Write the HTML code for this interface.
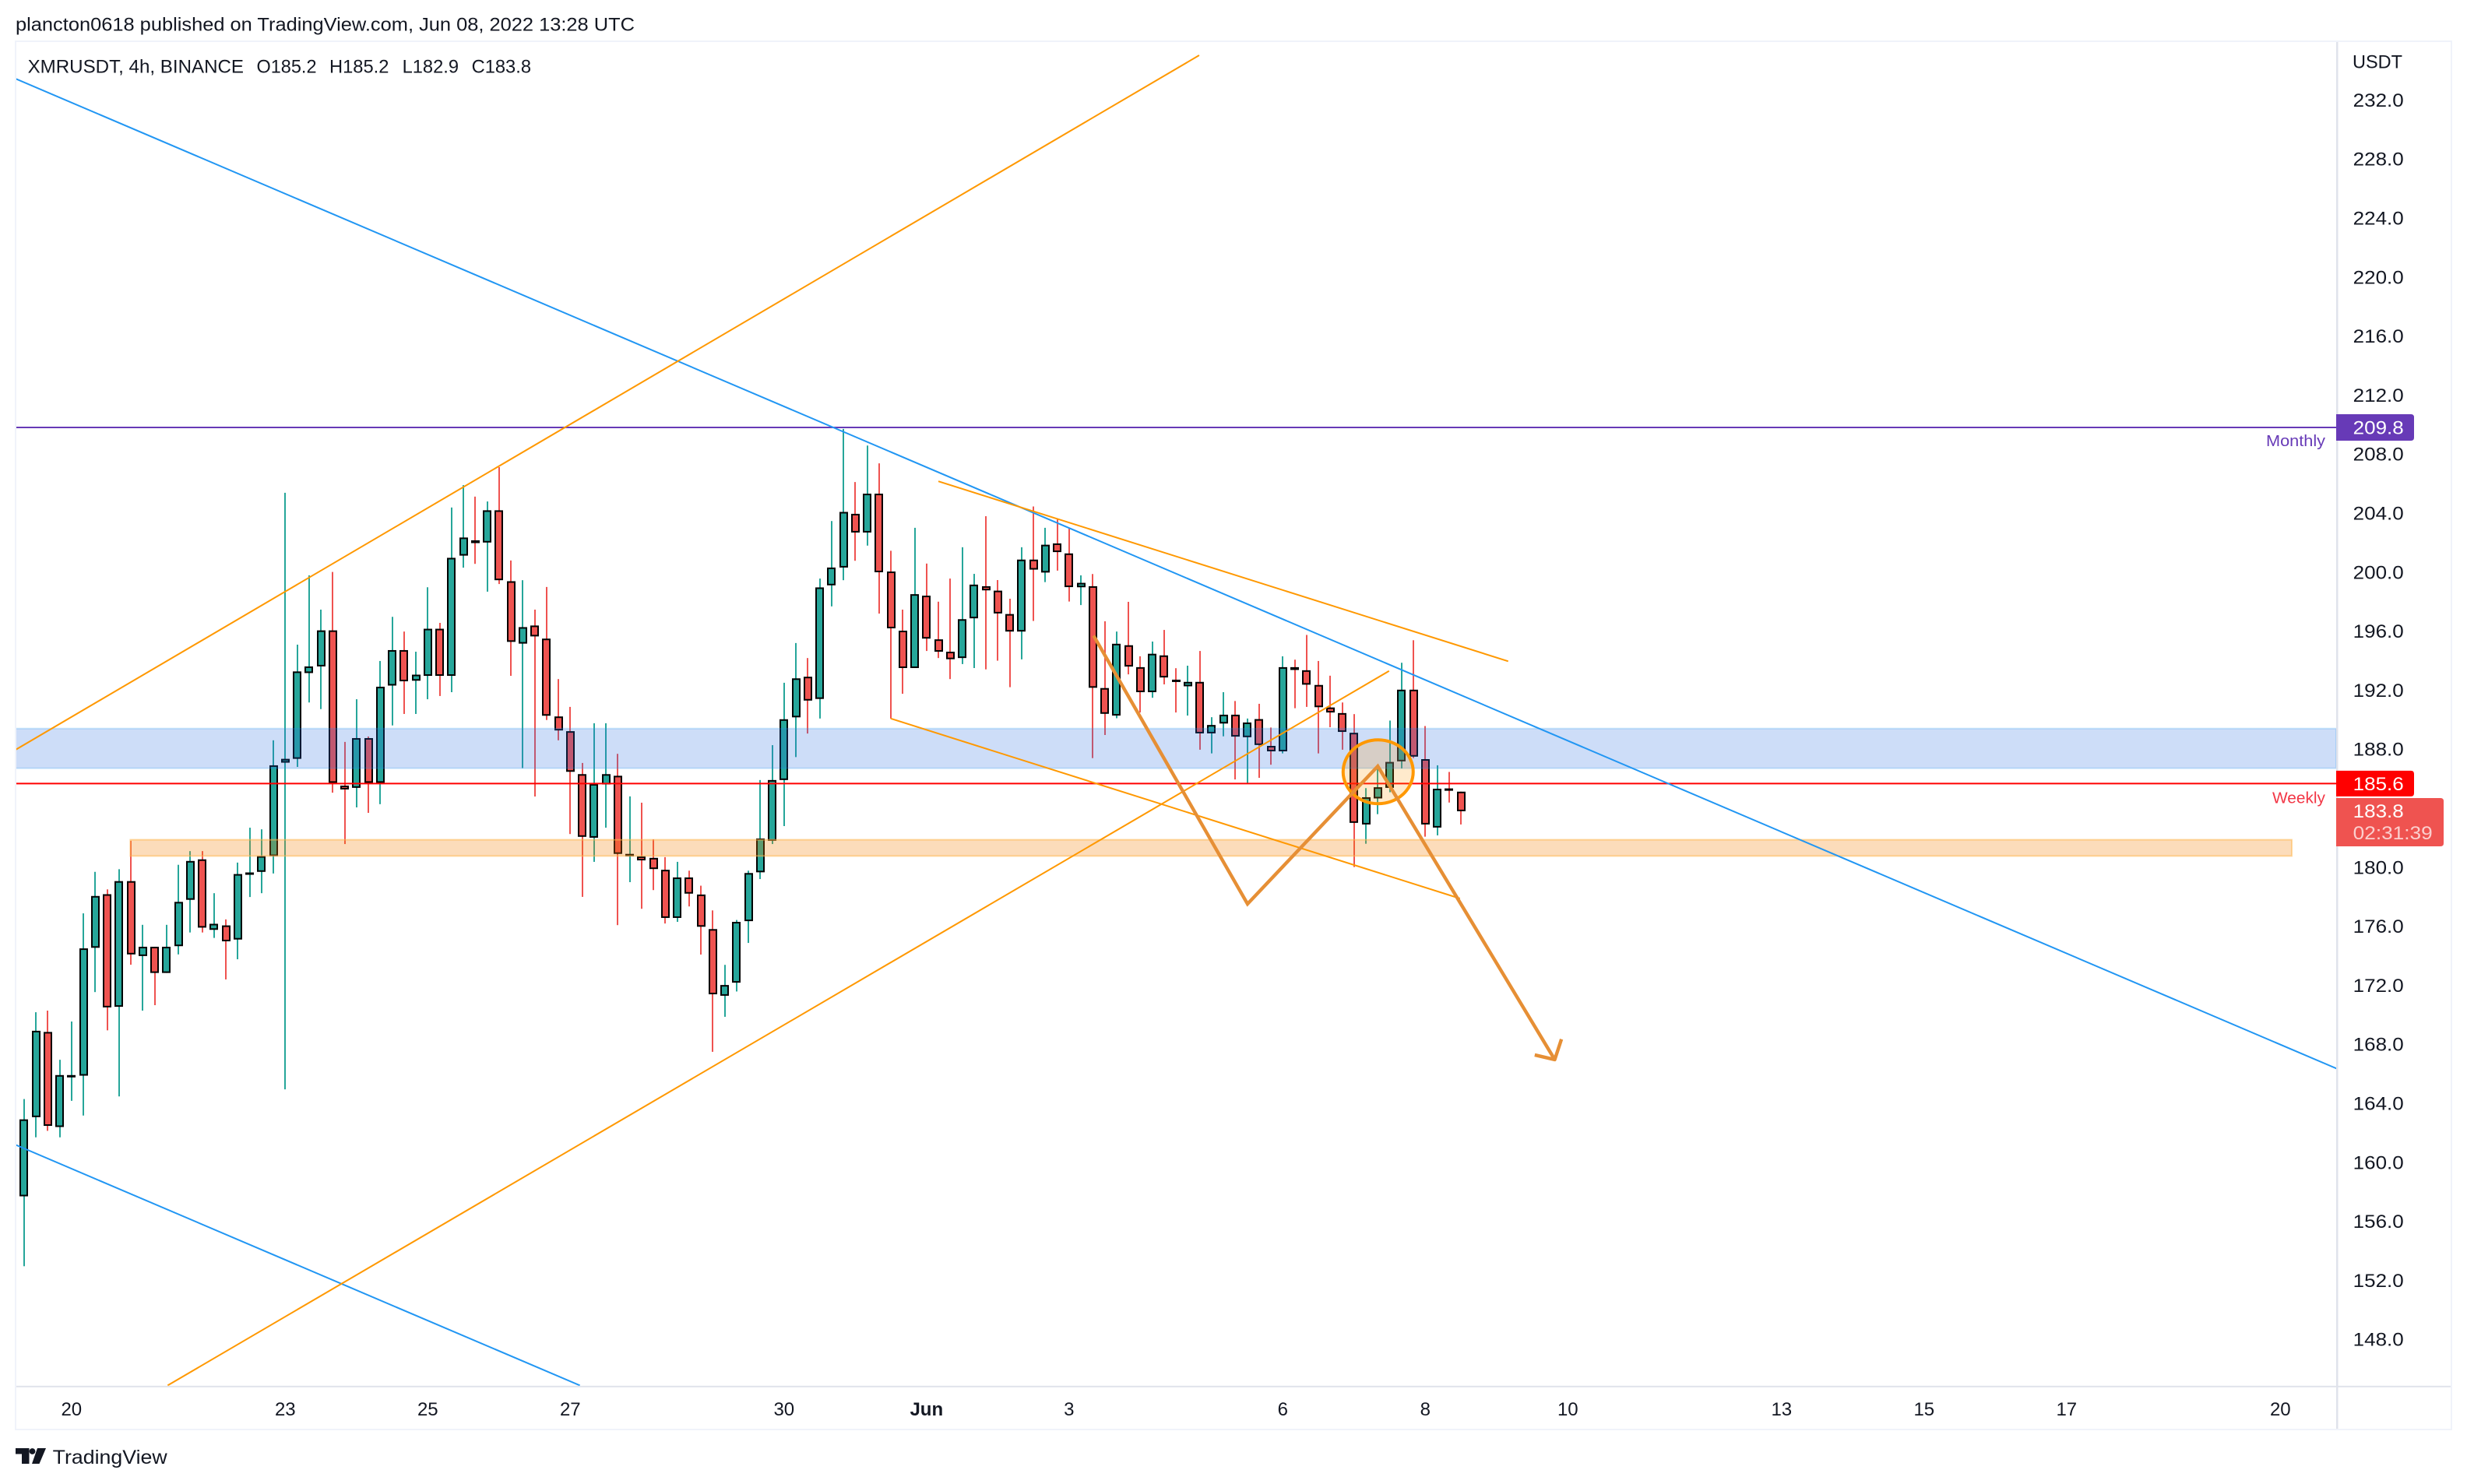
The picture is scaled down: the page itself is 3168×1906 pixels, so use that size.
<!DOCTYPE html>
<html lang="en">
<head>
<meta charset="utf-8">
<title>XMRUSDT 4h chart</title>
<style>
html,body{margin:0;padding:0;background:#fff;width:3168px;height:1906px;overflow:hidden}
svg{display:block}
text{font-family:"Liberation Sans",sans-serif;fill:#131722}
</style>
</head>
<body>
<svg id="root" xmlns="http://www.w3.org/2000/svg" width="3168" height="1906" viewBox="0 0 3168 1906">
  <defs><clipPath id="pane"><rect x="20.5" y="54" width="2979.5" height="1726"/></clipPath></defs>
  <rect x="0" y="0" width="3168" height="1906" fill="#fff"/>
  <text x="20" y="39.5" font-size="24" textLength="795" lengthAdjust="spacingAndGlyphs">plancton0618 published on TradingView.com, Jun 08, 2022 13:28 UTC</text>
  <g id="plot" clip-path="url(#pane)">
    <g id="candles"></g>
    <g id="overlays"></g>
  </g>
  <g>
    <text x="35.6" y="93.5" font-size="24" textLength="277.4" lengthAdjust="spacingAndGlyphs">XMRUSDT, 4h, BINANCE</text>
    <text x="329.5" y="93.5" font-size="24" textLength="77" lengthAdjust="spacingAndGlyphs">O185.2</text>
    <text x="423" y="93.5" font-size="24" textLength="76.4" lengthAdjust="spacingAndGlyphs">H185.2</text>
    <text x="516.6" y="93.5" font-size="24" textLength="72.4" lengthAdjust="spacingAndGlyphs">L182.9</text>
    <text x="605.6" y="93.5" font-size="24" textLength="76.4" lengthAdjust="spacingAndGlyphs">C183.8</text>
  </g>
  <g>
    <rect x="3000" y="54" width="2.5" height="1782" fill="#e0e3eb"/>
    <rect x="20" y="1779.8" width="3128" height="2" fill="#e0e3eb"/>
    <rect x="20" y="53" width="3128" height="1783" fill="none" stroke="#f0f3fa" stroke-width="2"/>
  </g>
  <g id="price-axis">
    <text x="3021" y="87.5" font-size="24" textLength="64" lengthAdjust="spacingAndGlyphs">USDT</text>
  </g>
  <g id="time-axis"></g>
  <g id="price-tags"></g>
  <g>
    <path d="M20 1860H37.5V1880H28V1867.5H20Z" fill="#131722"/>
    <circle cx="41.5" cy="1864" r="3.9" fill="#131722"/>
    <path d="M48 1860H59L50.5 1880H41Z" fill="#131722"/>
    <text x="67.7" y="1880" font-size="25" textLength="147" lengthAdjust="spacingAndGlyphs">TradingView</text>
  </g>
</svg>
<script>
var opens = [156.32,157.55,162.93,168.72,162.26,165.64,165.75,174.44,178.08,170.43,178.97,173.88,174.51,172.73,174.55,177.70,180.45,175.66,175.96,175.00,179.49,179.60,180.67,187.02,187.28,193.11,193.56,196.01,185.46,185.31,188.69,185.65,192.26,194.67,192.59,192.92,196.12,192.92,201.09,202.13,201.98,204.17,199.35,195.11,196.34,195.45,190.16,189.16,186.24,181.92,185.54,186.13,180.76,180.65,180.55,179.74,176.47,179.22,178.06,175.71,171.18,172.07,176.25,179.57,181.71,185.84,190.10,192.86,191.35,199.07,200.28,203.93,202.66,205.30,200.01,195.99,193.45,198.37,195.40,194.56,194.13,196.83,199.01,198.71,197.12,195.93,200.82,199.94,201.92,201.24,198.94,199.01,192.09,190.22,195.00,193.51,191.81,194.31,192.66,192.21,192.51,189.01,189.68,190.28,188.75,189.98,188.16,187.79,193.51,193.30,192.30,190.77,190.39,189.05,182.82,184.59,185.31,187.11,191.98,187.26,182.61,185.27,185.05];
var highs = [157.55,164.16,170.06,170.17,166.83,169.43,176.78,179.60,178.41,179.78,181.71,176.00,174.51,176.00,180.08,181.01,181.01,178.15,176.37,180.23,182.60,182.49,188.54,205.36,195.04,199.75,197.42,199.98,188.43,191.33,188.80,193.93,196.93,195.93,194.56,198.94,196.52,204.36,205.88,205.10,204.77,207.10,200.76,199.42,197.42,198.96,192.70,190.81,187.00,189.70,189.70,187.62,184.73,184.30,181.81,180.60,180.28,179.68,178.66,176.98,173.28,176.33,179.68,185.84,188.21,192.45,195.15,194.13,199.53,203.44,209.70,206.09,208.57,207.36,201.42,197.42,202.98,200.55,197.96,199.53,201.66,199.85,203.77,199.43,198.16,201.66,204.43,202.98,203.58,202.92,199.75,199.84,196.63,195.93,197.95,194.25,195.25,196.04,193.44,193.61,194.61,190.11,191.81,191.21,190.02,191.02,189.41,194.25,194.02,195.70,193.93,192.93,191.11,190.32,185.29,186.86,189.88,193.81,195.34,189.51,186.84,186.39,185.05];
var lows = [156.32,152.80,161.56,162.00,161.56,164.04,163.04,171.43,168.83,164.34,173.29,170.17,170.54,172.73,173.99,175.48,175.48,175.11,172.29,173.66,177.89,178.15,179.49,164.82,186.73,191.11,190.66,184.98,181.49,183.98,183.61,184.20,189.55,190.33,190.33,191.33,191.55,191.81,200.27,200.53,198.64,199.16,192.92,186.65,184.72,189.92,188.54,182.17,177.90,180.28,182.60,175.98,178.90,177.09,178.36,176.09,176.20,177.25,173.98,167.37,169.75,171.47,174.77,179.11,181.49,182.71,187.40,189.00,190.02,197.64,199.42,200.74,201.77,197.15,190.02,191.70,193.45,194.61,194.13,192.70,193.72,193.45,193.36,193.95,192.15,194.04,196.65,199.29,200.07,197.97,197.73,187.33,188.90,190.04,193.02,190.43,191.43,192.34,190.43,190.22,187.90,187.65,188.81,185.88,185.58,185.99,186.88,187.65,190.72,190.81,187.65,189.43,187.90,179.93,181.51,183.52,185.01,186.63,187.33,181.99,182.08,184.31,182.82];
var closes = [157.55,162.78,168.80,162.34,165.79,165.79,174.40,177.96,170.39,178.97,173.99,174.51,172.73,174.51,177.56,180.34,175.81,176.07,174.88,179.45,179.56,180.67,186.84,187.28,193.22,193.56,196.01,185.65,185.20,188.69,185.65,192.18,194.67,192.55,193.00,196.12,192.92,200.94,202.32,201.94,204.17,199.42,195.23,196.23,195.60,190.21,189.21,186.40,181.98,185.57,186.24,180.82,180.82,180.38,179.79,176.47,179.22,178.12,175.87,171.28,171.91,176.20,179.52,181.87,185.84,189.97,192.75,191.24,198.93,200.28,204.06,202.66,205.30,199.96,196.15,193.45,198.47,195.45,194.56,194.05,196.77,199.12,198.73,197.16,195.93,200.82,200.14,201.83,201.33,198.95,199.24,192.11,190.34,195.10,193.55,191.81,194.42,192.81,192.55,192.51,189.01,189.58,190.28,188.79,189.75,188.22,187.79,193.51,193.32,192.32,190.79,190.43,189.11,182.93,184.67,185.35,187.07,191.98,187.43,182.82,185.25,185.20,183.72];

var priceTicks = [232,228,224,220,216,212,208,204,200,196,192,188,180,176,172,168,164,160,156,152,148];
var timeTickBars = [4,22,34,46,64,76,88,106,118,130,148,160,172,190];
var timeTickLabels = ['20','23','25','27','30','Jun','3','6','8','10','13','15','17','20'];

var monthlyLevel = 209.8;
var weeklyLevel = 185.6;
var lastPrice = 183.8;
var countdown = '02:31:39';
var blueZonePrices = [189.34,186.64];
var orangeZonePrices = [181.78,180.68];
var orangeZoneBars = [8.96,190.96];

var blueTrendUpper = [[-0.66,233.48],[194.83,166.20]];
var blueTrendLower = [[-0.68,161.04],[46.81,144.70]];
var orangeChannelUpper = [[-0.68,187.91],[98.96,235.09]];
var orangeChannelLower = [[12.10,144.70],[114.95,193.25]];
var orangeWedgeUpper = [[77.00,206.14],[124.98,193.91]];
var orangeWedgeLower = [[72.98,190.02],[120.92,177.79]];
var projectionPath = [[90.07,195.65],[103.03,177.42],[114.00,186.78],[128.90,166.84]];
var circleCenter = [114.03,186.40];

var firstBar = -1;
var NS = 'http://www.w3.org/2000/svg';
function xScale(bar){ return 30.8 + 15.25 * bar; }
function yScale(price){ return 549 + (209.8 - price) * 18.9; }
function tickY(price){ return 507.4 + (212 - price) * 18.95; }
function make(tag, parent, attrs){
  var el = document.createElementNS(NS, tag);
  for (var k in attrs) el.setAttribute(k, attrs[k]);
  parent.appendChild(el);
  return el;
}

var candleLayer = document.getElementById('candles');
opens.forEach(function(open, i){
  var bar = firstBar + i;
  var close = closes[i];
  var up = close >= open;
  var color = up ? '#26a69a' : '#ef5350';
  var cx = xScale(bar);
  var top = yScale(Math.max(open, close));
  var bottom = yScale(Math.min(open, close));
  var g = make('g', candleLayer, {});
  
  
  var wick = make('rect', g, {x: Math.round(cx - 1), y: yScale(highs[i]), width: 2, height: Math.max(0, yScale(lows[i]) - yScale(highs[i])), fill: color});
  
  
  var h = Math.max(3, bottom - top);
  var edge = make('rect', g, {x: Math.round(cx - 5.5), y: top, width: 11, height: h, fill: '#000'});
  
  
  if (h > 4) {
    var body = make('rect', g, {x: Math.round(cx - 5.5) + 2, y: top + 2, width: 7, height: h - 4, fill: color});
    
    
  }
});

var overlayLayer = document.getElementById('overlays');

var blueZone = make('rect', overlayLayer, {x: 20, y: yScale(blueZonePrices[0]), width: 2980, height: yScale(blueZonePrices[1]) - yScale(blueZonePrices[0]), fill: 'rgba(38,107,225,0.23)', stroke: 'rgba(33,150,243,0.22)', 'stroke-width': 2});



var ozx1 = xScale(orangeZoneBars[0]);
var ozx2 = xScale(orangeZoneBars[1]);
var orangeZone = make('rect', overlayLayer, {x: ozx1, y: yScale(orangeZonePrices[0]), width: ozx2 - ozx1, height: yScale(orangeZonePrices[1]) - yScale(orangeZonePrices[0]), fill: 'rgba(245,124,0,0.27)', stroke: 'rgba(255,183,77,0.55)', 'stroke-width': 2});



var monthlyLine = make('line', overlayLayer, {x1: 20, x2: 3000, y1: yScale(monthlyLevel), y2: yScale(monthlyLevel), stroke: '#673ab7', 'stroke-width': 2});



var weeklyLine = make('line', overlayLayer, {x1: 20, x2: 3000, y1: yScale(weeklyLevel), y2: yScale(weeklyLevel), stroke: '#ff0000', 'stroke-width': 2});



function trendline(points, color){
  return make('line', overlayLayer, {x1: xScale(points[0][0]), y1: yScale(points[0][1]), x2: xScale(points[1][0]), y2: yScale(points[1][1]), stroke: color, 'stroke-width': 2});
}
var l1 = trendline(blueTrendUpper, '#2196f3');


var l2 = trendline(blueTrendLower, '#2196f3');


var l3 = trendline(orangeChannelUpper, '#ff9800');


var l4 = trendline(orangeChannelLower, '#ff9800');


var l5 = trendline(orangeWedgeUpper, '#ff9800');


var l6 = trendline(orangeWedgeLower, '#ff9800');



var circle = make('ellipse', overlayLayer, {cx: xScale(circleCenter[0]), cy: yScale(circleCenter[1]), rx: 45, ry: 41, fill: 'rgba(255,152,0,0.2)', stroke: '#ff9800', 'stroke-width': 4});



var pathPoints = projectionPath.map(function(p){ return xScale(p[0]) + ',' + yScale(p[1]); }).join(' ');
var projection = make('polyline', overlayLayer, {points: pathPoints, fill: 'none', stroke: '#e68f35', 'stroke-width': 4.4, 'stroke-linejoin': 'miter'});



var tip = projectionPath[projectionPath.length - 1];
var tipX = xScale(tip[0]);
var tipY = yScale(tip[1]);
var arrowHead = make('polyline', overlayLayer, {points: (tipX - 25.7) + ',' + (tipY - 6) + ' ' + tipX + ',' + tipY + ' ' + (tipX + 8.6) + ',' + (tipY - 26.3), fill: 'none', stroke: '#e68f35', 'stroke-width': 4.4, 'stroke-linejoin': 'round'});



var priceAxis = document.getElementById('price-axis');
priceTicks.forEach(function(tick){
  var t = make('text', priceAxis, {x: 3021.7, y: tickY(tick) + 8.5, 'font-size': 24, textLength: 65, lengthAdjust: 'spacingAndGlyphs'});
  t.textContent = tick.toFixed(1);
  
  
});

var timeAxis = document.getElementById('time-axis');
timeTickBars.forEach(function(bar, i){
  var t = make('text', timeAxis, {x: xScale(bar), y: 1818, 'font-size': 24, 'text-anchor': 'middle'});
  if (timeTickLabels[i] === 'Jun') t.setAttribute('font-weight', 'bold');
  t.textContent = timeTickLabels[i];
  
  
});

var tags = document.getElementById('price-tags');
function tagPath(x, top, w, h){
  var r = 4;
  return 'M' + x + ' ' + top + 'H' + (x + w - r) + 'Q' + (x + w) + ' ' + top + ' ' + (x + w) + ' ' + (top + r) +
         'V' + (top + h - r) + 'Q' + (x + w) + ' ' + (top + h) + ' ' + (x + w - r) + ' ' + (top + h) + 'H' + x + 'Z';
}
var monthlyY = yScale(monthlyLevel);
var weeklyY = yScale(weeklyLevel);
var lastTop = weeklyY + 18.6;

var monthlyTag = make('path', tags, {d: tagPath(3000, monthlyY - 17, 100, 34), fill: '#673ab7'});


var monthlyTagText = make('text', tags, {x: 3021.7, y: monthlyY + 8.5, 'font-size': 24, textLength: 65, lengthAdjust: 'spacingAndGlyphs', style: 'fill:#fff'});
monthlyTagText.textContent = monthlyLevel.toFixed(1);


var monthlyLabel = make('text', tags, {x: 2910, y: monthlyY + 24, 'font-size': 20, textLength: 76, lengthAdjust: 'spacingAndGlyphs', style: 'fill:#673ab7'});
monthlyLabel.textContent = 'Monthly';



var weeklyTag = make('path', tags, {d: tagPath(3000, weeklyY - 16.5, 100, 33), fill: '#ff0000'});


var weeklyTagText = make('text', tags, {x: 3021.7, y: weeklyY + 8.5, 'font-size': 24, textLength: 65, lengthAdjust: 'spacingAndGlyphs', style: 'fill:#fff'});
weeklyTagText.textContent = weeklyLevel.toFixed(1);


var weeklyLabel = make('text', tags, {x: 2918, y: weeklyY + 25, 'font-size': 20, textLength: 68, lengthAdjust: 'spacingAndGlyphs', style: 'fill:#f23645'});
weeklyLabel.textContent = 'Weekly';



var lastTag = make('path', tags, {d: tagPath(3000, lastTop, 138, 62), fill: '#ef5350'});


var lastTagText = make('text', tags, {x: 3021.7, y: lastTop + 25, 'font-size': 24, textLength: 65, lengthAdjust: 'spacingAndGlyphs', style: 'fill:#fff'});
lastTagText.textContent = lastPrice.toFixed(1);


var countdownText = make('text', tags, {x: 3021.7, y: lastTop + 53, 'font-size': 24, textLength: 102, lengthAdjust: 'spacingAndGlyphs', style: 'fill:#fff;fill-opacity:.72'});
countdownText.textContent = countdown;


</script>
</body>
</html>
